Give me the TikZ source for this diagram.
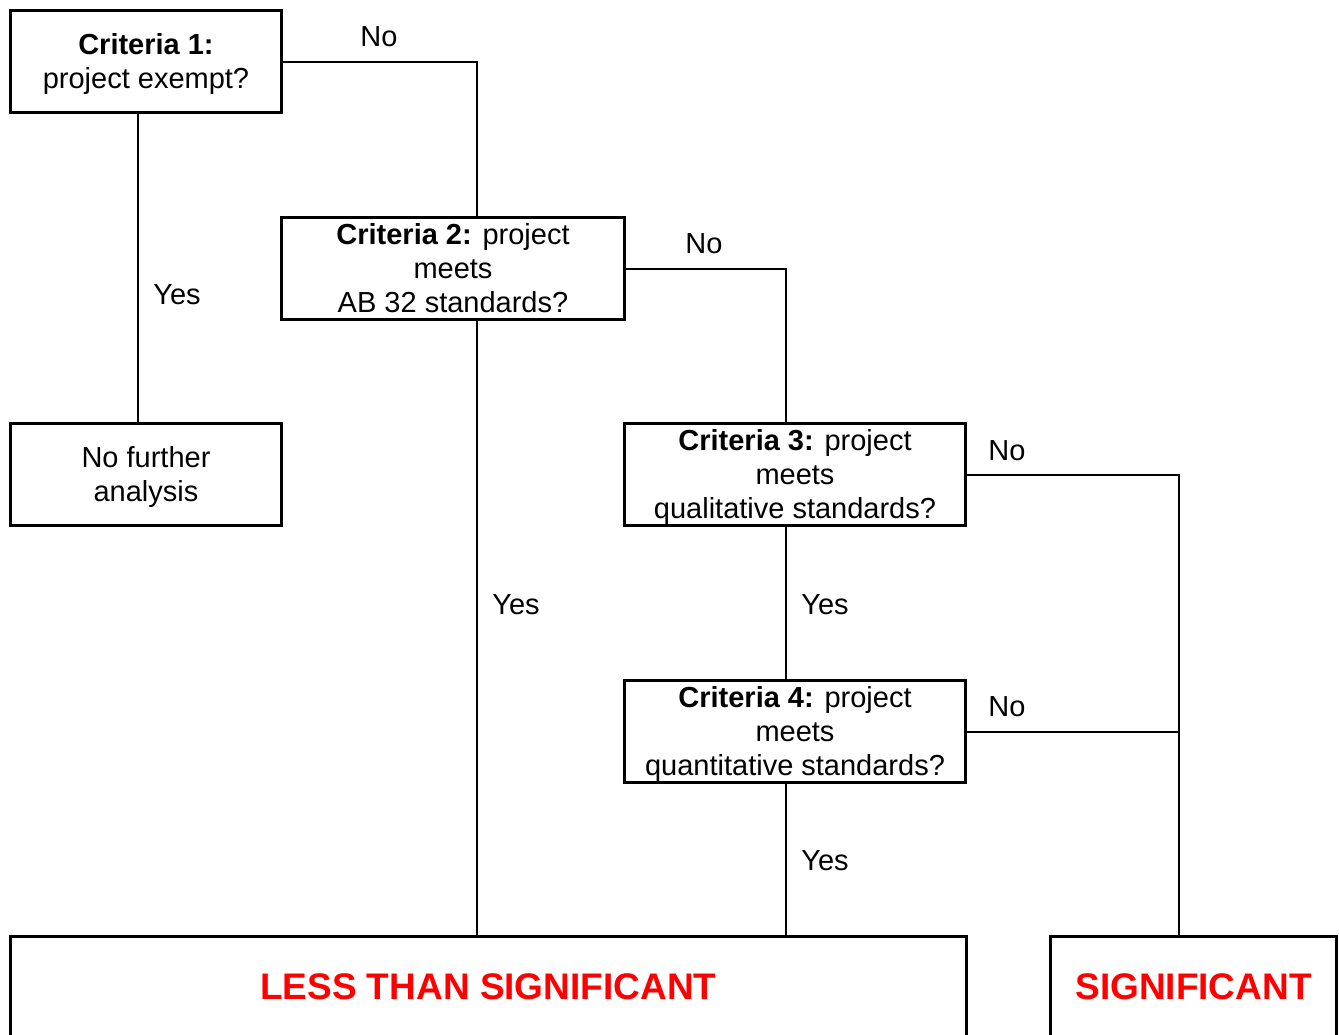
\documentclass[tikz,border=0pt]{standalone}
\usepackage{fontspec}
\setmainfont{Liberation Sans}
\newcommand{\ls}{\rule[-7.5pt]{0pt}{34pt}}
\begin{document}
\begin{tikzpicture}[x=1pt,y=-1pt,
  box/.style={draw,line width=3pt,inner sep=0pt,align=center,
    font=\fontsize{29}{34}\selectfont},
  result/.style={draw,line width=3pt,inner sep=0pt,text=red,
    font=\fontsize{37}{42}\selectfont\bfseries},
  conn/.style={line width=2pt},
  lbl/.style={anchor=base,inner sep=0pt,font=\fontsize{29}{34}\selectfont}]
\useasboundingbox (0,0) rectangle (1339,1034);
\clip (0,0) rectangle (1339,1034);
\fill[white] (0,0) rectangle (1339,1034);

\node[box,minimum width=271pt,minimum height=102pt] (c1) at (146,61.5)
  {\ls\textbf{Criteria 1:}\\\ls project exempt?};
\node[box,minimum width=271pt,minimum height=102pt] (nf) at (146,474.5)
  {\ls No further\\\ls analysis};
\node[box,minimum width=343pt,minimum height=102pt] (c2) at (453,268.5)
  {\ls\textbf{Criteria 2:} project\\\ls meets\\\ls AB 32 standards?};
\node[box,minimum width=341.5pt,minimum height=102pt] (c3) at (795,474.5)
  {\ls\textbf{Criteria 3:} project\\\ls meets\\\ls qualitative standards?};
\node[box,minimum width=341.5pt,minimum height=102pt] (c4) at (795,731.5)
  {\ls\textbf{Criteria 4:} project\\\ls meets\\\ls quantitative standards?};
\node[result,minimum width=955.5pt,minimum height=100.5pt] (less) at (488.25,986.75)
  {LESS THAN SIGNIFICANT};
\node[result,minimum width=286pt,minimum height=100.5pt] (sig) at (1193.5,986.75)
  {SIGNIFICANT};

\coordinate (x2) at (477,0);
\coordinate (x3) at (786,0);
\coordinate (xs) at (1179,0);
\coordinate (x1) at (138,0);

\draw[conn] (c1.east) -| (c2.north -| x2);
\draw[conn] (c1.south -| x1) -- (nf.north -| x1);
\draw[conn] (c2.east) -| (c3.north -| x3);
\draw[conn] (c2.south -| x2) -- (less.north -| x2);
\draw[conn] (c3.south -| x3) -- (c4.north -| x3);
\draw[conn] (c4.south -| x3) -- (less.north -| x3);
\draw[conn] (c3.east) -| (sig.north -| xs);
\draw[conn] (c4.east) -- (c4.east -| xs);

\node[lbl] (l1) at (379,46.4) {No};
\node[lbl] (l2) at (177,304.4) {Yes};
\node[lbl] (l3) at (704,253.4) {No};
\node[lbl] (l4) at (516,614.4) {Yes};
\node[lbl] (l5) at (1007,460.4) {No};
\node[lbl] (l6) at (825,614.4) {Yes};
\node[lbl] (l7) at (1007,716.4) {No};
\node[lbl] (l8) at (825,870.4) {Yes};
\end{tikzpicture}
\end{document}
